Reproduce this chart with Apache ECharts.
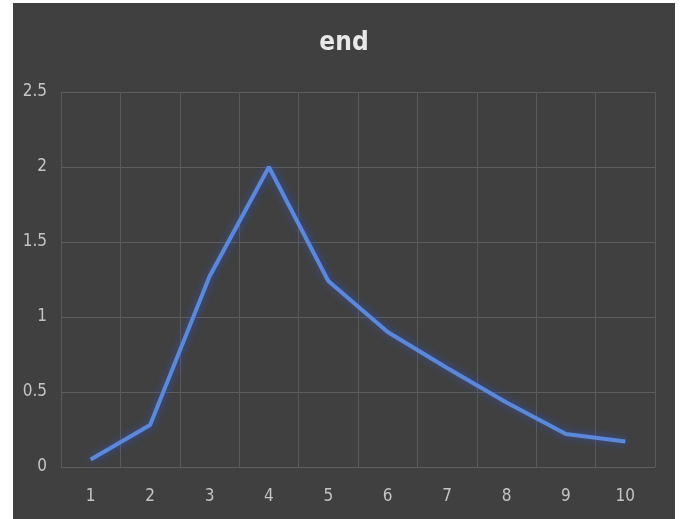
<!DOCTYPE html>
<html>
<head>
<meta charset="utf-8">
<script src="https://cdn.jsdelivr.net/npm/echarts@6/dist/echarts.min.js"></script>
<style>
  html, body { margin: 0; padding: 0; background: #ffffff; width: 682px; height: 519px; overflow: hidden; }
  #chart { position: absolute; left: 13px; top: 3px; width: 662px; height: 516px; background: #404040; }
</style>
</head>
<body>
<div id="chart"></div>
<script>
// Categories along the x axis and the plotted series
const categories = ['1', '2', '3', '4', '5', '6', '7', '8', '9', '10'];
const endValues = [0.05, 0.28, 1.27, 2.0, 1.24, 0.9, 0.66, 0.43, 0.22, 0.17];
const yTicks = { min: 0, max: 2.5, interval: 0.5 };

const labelFont = '"Liberation Sans Narrow", "DejaVu Sans Condensed", "Liberation Sans", sans-serif';

const chart = echarts.init(document.getElementById('chart'), null, { renderer: 'canvas' });

chart.setOption({
  backgroundColor: '#404040',
  animation: false,
  title: {
    text: 'end',
    left: 'center',
    top: 22,
    textStyle: { color: '#e8e8e8', fontSize: 26, fontWeight: 'bold', fontFamily: labelFont }
  },
  grid: { left: 48, right: 20, top: 89, bottom: 52 },
  xAxis: {
    type: 'category',
    data: categories,
    boundaryGap: true,
    axisLine: { show: false },
    axisTick: { show: false },
    axisLabel: { color: '#c4c4c4', fontSize: 17, margin: 21, fontFamily: labelFont },
    splitLine: { show: true, lineStyle: { color: '#5a5a5a', width: 1 } }
  },
  yAxis: {
    type: 'value',
    min: yTicks.min,
    max: yTicks.max,
    interval: yTicks.interval,
    axisLine: { show: false },
    axisTick: { show: false },
    axisLabel: { color: '#c4c4c4', fontSize: 17, margin: 14, fontFamily: labelFont },
    splitLine: { show: true, lineStyle: { color: '#5e5e5e', width: 1 } }
  },
  series: [{
    name: 'end',
    type: 'line',
    data: endValues,
    symbol: 'none',
    lineStyle: {
      color: '#5b88da',
      width: 4,
      shadowColor: 'rgba(50,90,210,0.75)',
      shadowBlur: 9
    }
  }]
});
</script>
</body>
</html>
